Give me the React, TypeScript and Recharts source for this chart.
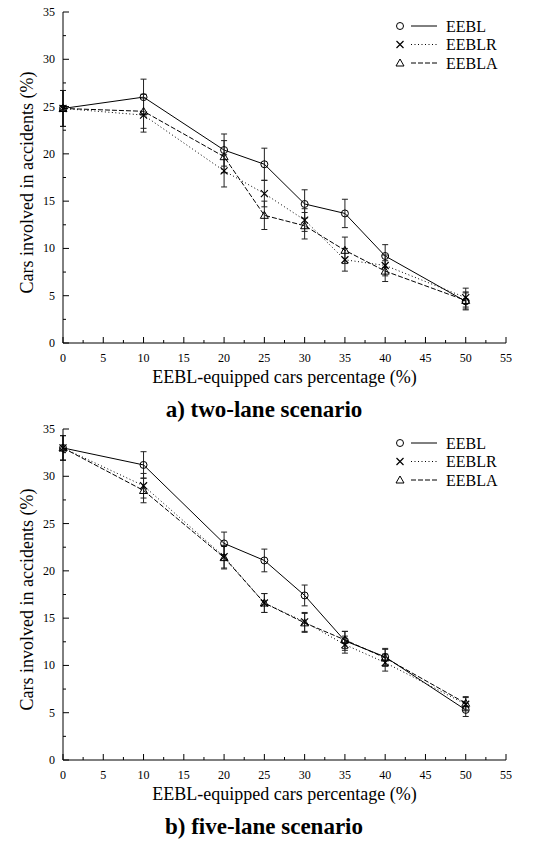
import { ErrorBar, Line, LineChart, XAxis, YAxis } from "recharts";

const PCT = [0, 10, 20, 25, 30, 35, 40, 50];

// a) two-lane scenario
const TWO_EEBL = [24.8, 26.0, 20.4, 18.9, 14.7, 13.7, 9.2, 4.4];
const TWO_EEBL_ERR = [1.9, 1.9, 1.7, 1.7, 1.5, 1.5, 1.2, 0.9];
const TWO_EEBLR = [24.8, 24.1, 18.2, 15.8, 13.0, 8.8, 8.2, 4.8];
const TWO_EEBLR_ERR = [1.9, 1.8, 1.7, 1.4, 1.2, 1.2, 1.1, 1.0];
const TWO_EEBLA = [24.8, 24.5, 19.7, 13.5, 12.4, 9.8, 7.6, 4.5];
const TWO_EEBLA_ERR = [1.9, 1.8, 1.7, 1.5, 1.4, 1.4, 1.1, 0.9];

// b) five-lane scenario
const FIVE_EEBL = [33.0, 31.2, 22.9, 21.1, 17.4, 12.6, 10.9, 5.3];
const FIVE_EEBL_ERR = [1.3, 1.4, 1.2, 1.2, 1.1, 1.0, 0.9, 0.7];
const FIVE_EEBLR = [33.0, 29.0, 21.5, 16.6, 14.6, 12.2, 10.3, 5.9];
const FIVE_EEBLR_ERR = [1.3, 1.3, 1.2, 1.0, 1.0, 0.9, 0.9, 0.7];
const FIVE_EEBLA = [33.0, 28.5, 21.4, 16.6, 14.5, 12.7, 10.8, 6.0];
const FIVE_EEBLA_ERR = [1.3, 1.3, 1.2, 1.0, 1.0, 0.9, 0.9, 0.7];

const X_TICKS = [0, 2.5, 5, 7.5, 10, 12.5, 15, 17.5, 20, 22.5, 25, 27.5, 30, 32.5, 35, 37.5, 40, 42.5, 45, 47.5, 50, 52.5, 55];
const Y_TICKS = [0, 2.5, 5, 7.5, 10, 12.5, 15, 17.5, 20, 22.5, 25, 27.5, 30, 32.5, 35];

const SERIF = "Liberation Serif";
const INK = "#000";
const TICK_GAP = 8; // tickSize 0 + tickMargin 8
const serifStyle = { fontFamily: SERIF };

function rows(a: number[], ae: number[], b: number[], be: number[], c: number[], ce: number[]) {
  return PCT.map((x, i) => ({
    x,
    eebl: a[i],
    eeblErr: ae[i],
    eeblr: b[i],
    eeblrErr: be[i],
    eebla: c[i],
    eeblaErr: ce[i],
  }));
}

const TWO_DATA = rows(TWO_EEBL, TWO_EEBL_ERR, TWO_EEBLR, TWO_EEBLR_ERR, TWO_EEBLA, TWO_EEBLA_ERR);
const FIVE_DATA = rows(FIVE_EEBL, FIVE_EEBL_ERR, FIVE_EEBLR, FIVE_EEBLR_ERR, FIVE_EEBLA, FIVE_EEBLA_ERR);

function XTick(props: any) {
  const { x, y, payload } = props;
  const v = payload.value;
  const major = v % 5 === 0;
  const ay = y - TICK_GAP;
  return (
    <g>
      <line x1={x} x2={x} y1={ay} y2={ay - (major ? 6 : 3)} stroke={INK} strokeWidth={1} />
      {major && (
        <text x={x} y={ay + 19} textAnchor="middle" style={serifStyle} fontSize={12} fill={INK}>
          {v}
        </text>
      )}
    </g>
  );
}

function YTick(props: any) {
  const { x, y, payload } = props;
  const v = payload.value;
  const major = v % 5 === 0;
  const ax = x + TICK_GAP;
  return (
    <g>
      <line x1={ax} x2={ax + (major ? 6 : 3)} y1={y} y2={y} stroke={INK} strokeWidth={1} />
      {major && (
        <text x={ax - 8} y={y + 4} textAnchor="end" style={serifStyle} fontSize={12} fill={INK}>
          {v}
        </text>
      )}
    </g>
  );
}

function YTitle(props: any) {
  const { viewBox } = props;
  const cx = viewBox.x + 27;
  const cy = viewBox.y + viewBox.height / 2 + 5;
  return (
    <text
      x={cx}
      y={cy}
      transform={`rotate(-90 ${cx} ${cy})`}
      textAnchor="middle"
      dominantBaseline="central"
      style={serifStyle}
      fontSize={18}
      fill={INK}
    >
      Cars involved in accidents (%)
    </text>
  );
}

function XTitle(props: any) {
  const { viewBox } = props;
  const cx = viewBox.x + viewBox.width / 2;
  return (
    <text x={cx} y={viewBox.y + 40} textAnchor="middle" style={serifStyle} fontSize={18} fill={INK}>
      EEBL-equipped cars percentage (%)
    </text>
  );
}

function CircleDot(props: any) {
  const { cx, cy, index } = props;
  return <circle key={`c${index}`} cx={cx} cy={cy} r={3.5} fill="none" stroke={INK} strokeWidth={1} />;
}

function CrossDot(props: any) {
  const { cx, cy, index } = props;
  const s = 3.5;
  return (
    <path
      key={`x${index}`}
      d={`M${cx - s},${cy - s}L${cx + s},${cy + s}M${cx - s},${cy + s}L${cx + s},${cy - s}`}
      stroke={INK}
      strokeWidth={1.2}
      fill="none"
    />
  );
}

function TriDot(props: any) {
  const { cx, cy, index } = props;
  const s = 4;
  return (
    <path
      key={`t${index}`}
      d={`M${cx},${cy - s}L${cx + s},${cy + s * 0.75}L${cx - s},${cy + s * 0.75}Z`}
      stroke={INK}
      strokeWidth={1}
      fill="none"
    />
  );
}

const LEGEND = [
  { name: "EEBL", dash: undefined as string | undefined, Mark: CircleDot },
  { name: "EEBLR", dash: "1 2.5", Mark: CrossDot },
  { name: "EEBLA", dash: "5 2", Mark: TriDot },
];

function Key() {
  return (
    <svg width={140} height={60} style={{ position: "absolute", left: 392, top: 16 }}>
      {LEGEND.map((l, i) => {
        const y = 10 + i * 18.5;
        return (
          <g key={l.name}>
            <l.Mark cx={8} cy={y} index={i} />
            <line x1={19} x2={45} y1={y} y2={y} stroke={INK} strokeWidth={1} strokeDasharray={l.dash} />
            <text x={54} y={y + 5.5} style={serifStyle} fontSize={16} fill={INK}>
              {l.name}
            </text>
          </g>
        );
      })}
    </svg>
  );
}

function Panel({ data, top, caption }: { data: any[]; top: number; caption: string }) {
  return (
    <div style={{ position: "absolute", left: 0, top, width: 536, height: 425 }}>
      <LineChart width={536} height={400} data={data} margin={{ top: 12, right: 30, bottom: 12, left: 0 }}>
        <XAxis
          dataKey="x"
          type="number"
          domain={[0, 55]}
          ticks={X_TICKS}
          interval={0}
          height={45}
          tickSize={0}
          tickMargin={TICK_GAP}
          tickLine={false}
          axisLine={{ stroke: INK, strokeWidth: 1 }}
          tick={<XTick />}
          label={<XTitle />}
        />
        <YAxis
          type="number"
          domain={[0, 35]}
          ticks={Y_TICKS}
          interval={0}
          width={63}
          tickSize={0}
          tickMargin={TICK_GAP}
          tickLine={false}
          axisLine={{ stroke: INK, strokeWidth: 1 }}
          tick={<YTick />}
          label={<YTitle />}
        />
        <Line dataKey="eebl" stroke={INK} strokeWidth={1} dot={CircleDot} activeDot={false} isAnimationActive={false}>
          <ErrorBar dataKey="eeblErr" width={3} stroke="#222" strokeWidth={1} direction="y" />
        </Line>
        <Line
          dataKey="eeblr"
          stroke={INK}
          strokeWidth={1}
          strokeDasharray="1 2.5"
          dot={CrossDot}
          activeDot={false}
          isAnimationActive={false}
        >
          <ErrorBar dataKey="eeblrErr" width={3} stroke="#222" strokeWidth={1} direction="y" />
        </Line>
        <Line
          dataKey="eebla"
          stroke={INK}
          strokeWidth={1}
          strokeDasharray="5 2"
          dot={TriDot}
          activeDot={false}
          isAnimationActive={false}
        >
          <ErrorBar dataKey="eeblaErr" width={3} stroke="#222" strokeWidth={1} direction="y" />
        </Line>
      </LineChart>
      <Key />
      <div
        style={{
          position: "absolute",
          left: 0,
          width: 528,
          top: 396,
          textAlign: "center",
          fontFamily: SERIF,
          fontWeight: "bold",
          fontSize: 23,
          lineHeight: "27px",
          color: INK,
        }}
      >
        {caption}
      </div>
    </div>
  );
}

export default function App() {
  return (
    <div style={{ position: "absolute", left: 0, top: 0, width: 536, height: 842, background: "#fff", overflow: "hidden" }}>
      <Panel data={TWO_DATA} top={0} caption="a) two-lane scenario" />
      <Panel data={FIVE_DATA} top={417} caption="b) five-lane scenario" />
    </div>
  );
}
